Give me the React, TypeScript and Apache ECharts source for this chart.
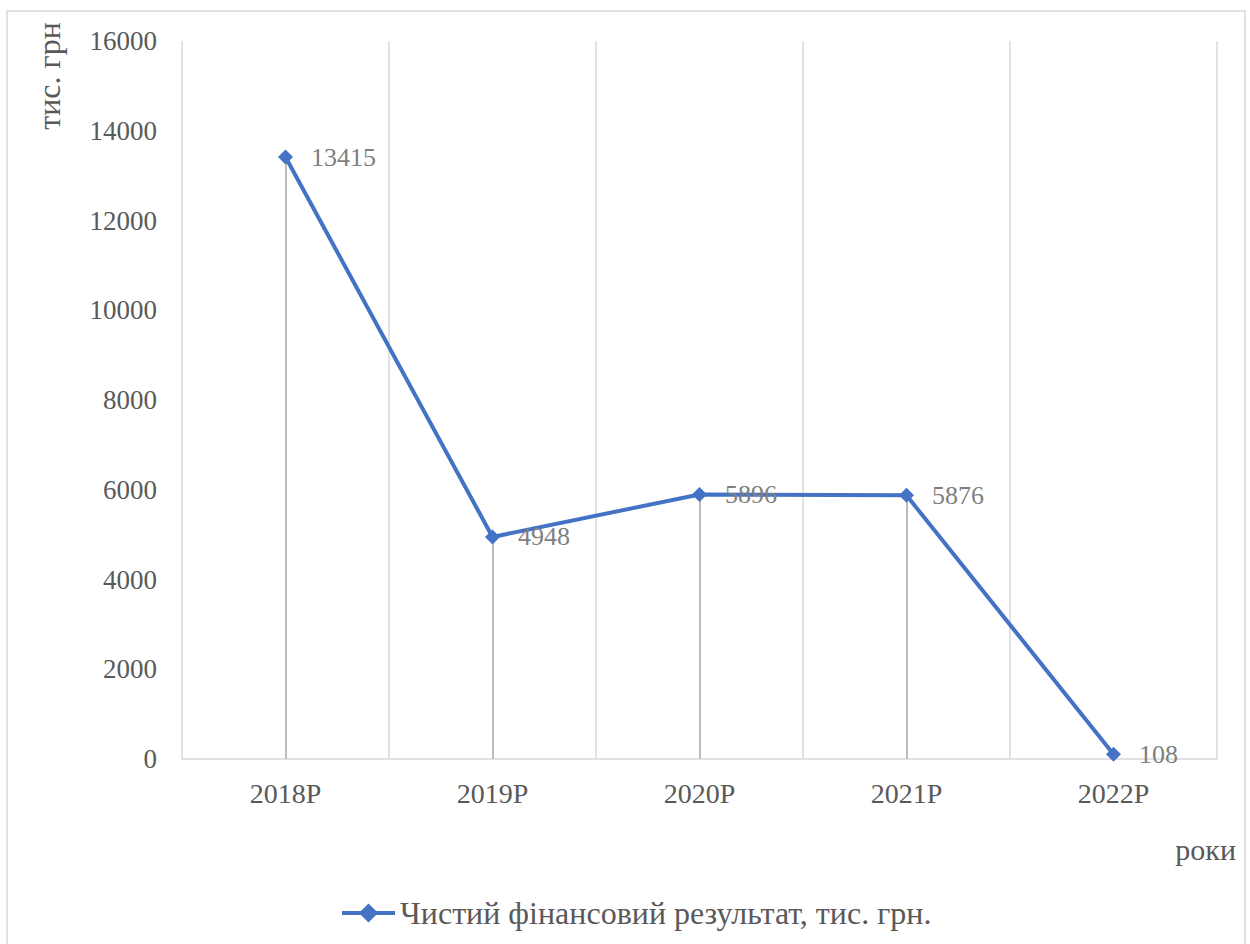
import React, { useEffect, useRef } from "react";
import * as echarts from "echarts";

const years = ["2018Р", "2019Р", "2020Р", "2021Р", "2022Р"];
const netResult = [13415, 4948, 5896, 5876, 108];
const seriesName = "Чистий фінансовий результат, тис. грн.";
const yAxisTitle = "тис. грн";
const xAxisTitle = "роки";

const FONT = "Liberation Serif, Times New Roman, serif";
const TEXT = "#595959";
const GRID = "#d9d9d9";
const BLUE = "#4472C4";

export default function App() {
  const ref = useRef<HTMLDivElement>(null);

  useEffect(() => {
    if (!ref.current) return;
    const chart = echarts.init(ref.current, undefined, { renderer: "svg" });
    chart.setOption({
      animation: false,
      backgroundColor: "#ffffff",
      textStyle: { fontFamily: FONT },
      grid: { left: 182, right: 33, top: 41, bottom: 185, containLabel: false },
      xAxis: {
        type: "category",
        data: years,
        boundaryGap: true,
        axisLine: { show: true, lineStyle: { color: GRID, width: 1.5 } },
        axisTick: { show: false },
        axisLabel: { color: TEXT, fontSize: 28, fontFamily: FONT, margin: 20 },
        splitLine: { show: true, lineStyle: { color: GRID, width: 1.5 } },
      },
      yAxis: {
        type: "value",
        min: 0,
        max: 16000,
        interval: 2000,
        axisLine: { show: false },
        axisTick: { show: false },
        splitLine: { show: false },
        axisLabel: {
          color: TEXT,
          fontSize: 27,
          fontFamily: FONT,
          margin: 25,
          formatter: (v: number) => String(v),
        },
      },
      legend: {
        left: 335,
        top: 892,
        itemWidth: 53,
        itemHeight: 24,
        lineStyle: { width: 4, color: BLUE },
        textStyle: { color: TEXT, fontSize: 32, fontFamily: FONT },
        data: [seriesName],
      },
      series: [
        {
          name: seriesName,
          type: "line",
          data: netResult,
          symbol: "diamond",
          symbolSize: 15,
          lineStyle: { color: BLUE, width: 4 },
          itemStyle: { color: BLUE },
          label: {
            show: true,
            position: "right",
            distance: 18,
            color: "#7f7f7f",
            fontSize: 26,
            fontFamily: FONT,
          },
          markLine: {
            silent: true,
            symbol: ["none", "none"],
            z: 1,
            lineStyle: { color: "#a6a6a6", width: 1.5, type: "solid" },
            label: { show: false },
            data: netResult.map((v, i) => [
              { coord: [years[i], 0] },
              { coord: [years[i], v] },
            ]),
          },
          z: 3,
        },
      ],
      graphic: [
        {
          type: "rect",
          shape: { x: 7, y: 11, width: 1238, height: 960 },
          style: { fill: "none", stroke: GRID, lineWidth: 1.5 },
          silent: true,
        },
        {
          type: "text",
          x: 49,
          y: 76,
          rotation: Math.PI / 2,
          style: {
            text: yAxisTitle,
            fill: TEXT,
            fontSize: 32,
            fontFamily: FONT,
            align: "center",
            verticalAlign: "middle",
          },
        },
        {
          type: "text",
          x: 1236,
          y: 849,
          style: {
            text: xAxisTitle,
            fill: TEXT,
            fontSize: 30,
            fontFamily: FONT,
            align: "right",
            verticalAlign: "middle",
          },
        },
      ],
    });
    return () => chart.dispose();
  }, []);

  return (
    <div
      ref={ref}
      style={{ position: "absolute", left: 0, top: 0, width: 1250, height: 944 }}
    />
  );
}
